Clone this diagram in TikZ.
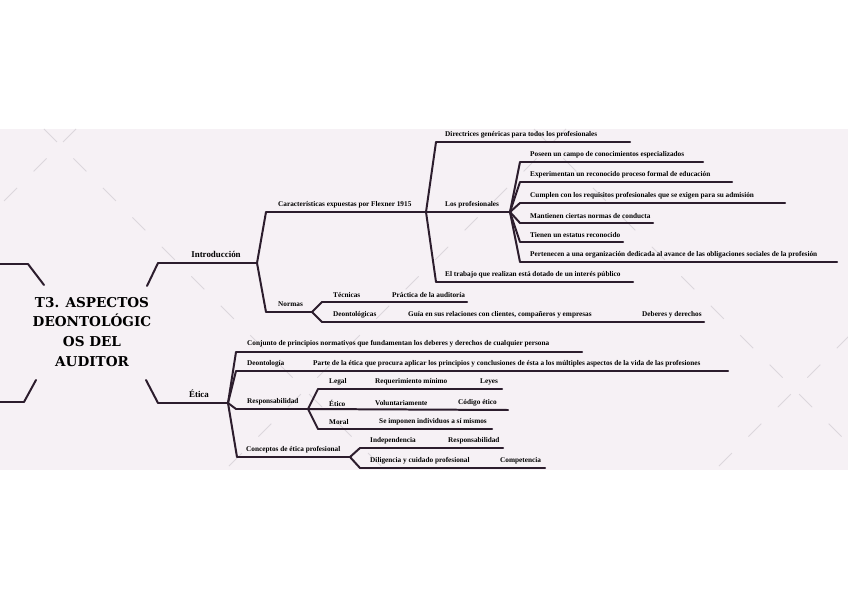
\documentclass[tikz,border=0pt]{standalone}
\usepackage{fontspec}
\setmainfont{Liberation Serif}
\newfontfamily\titlefont{DejaVu Serif}
\usepackage{xcolor}
\usetikzlibrary{positioning}
\definecolor{branchcol}{HTML}{2C1D2D}
\definecolor{bandcol}{HTML}{F6F1F5}
\definecolor{dashcol}{HTML}{DCD7DC}

\begin{document}
\begin{tikzpicture}[
  x=0.03cm, y=-0.03cm,
  branch/.style={draw=branchcol, line width=1.7pt, line join=round, line cap=round},
  leaf/.style={anchor=west, inner sep=0pt, font=\bfseries\fontsize{6.2}{7}\selectfont},
  topic/.style={anchor=center, inner sep=0pt, font=\bfseries\fontsize{7.6}{9}\selectfont},
  central/.style={align=center, inner sep=0pt, font=\titlefont\bfseries\fontsize{11.6}{17}\selectfont},
  deco/.style={draw=dashcol, line width=0.7pt, dash pattern=on 0.55cm off 0.7cm}
]
\useasboundingbox (0,0) rectangle (848,599);

% Background band
\fill[bandcol] (0,129) rectangle (848,470);
\begin{scope}
  \clip (0,129) rectangle (848,470);
  \draw[deco] (76,129) -- (-265,470);
  \draw[deco] (566,129) -- (225,470);
  \draw[deco] (1056,129) -- (715,470);
  \draw[deco] (44,129) -- (385,470);
  \draw[deco] (534,129) -- (875,470);
\end{scope}

% Central topic
\node[central] (root) at (92,332) {T3. ASPECTOS\\DEONTOLÓGIC\\OS DEL\\AUDITOR};

% Branches leaving to the left
\coordinate (ul-a) at (44,285);
\coordinate (ul-b) at (28,264);
\coordinate (ul-e) at (0,264);
\coordinate (ll-a) at (36,380);
\coordinate (ll-b) at (24,402);
\coordinate (ll-e) at (0,402);
\draw[branch] (ul-a) -- (ul-b) -- (ul-e);
\draw[branch] (ll-a) -- (ll-b) -- (ll-e);

% Introduccion
\coordinate (intro-a) at (147,286);
\coordinate (intro-s) at (158,263);
\coordinate (intro-e) at (257,263);
\node[topic] (intro) at (216,254) {Introducción};

\coordinate (caract-s) at (266,212);
\coordinate (caract-e) at (426,212);
\node[leaf] (caract) at (278,205) {Características expuestas por Flexner 1915};

\coordinate (direct-s) at (436,142);
\coordinate (direct-e) at (630,142);
\node[leaf] (direct) at (445,135) {Directrices genéricas para todos los profesionales};

\coordinate (profs-e) at (510,212);
\node[leaf] (profs) at (445,205) {Los profesionales};

\coordinate (trabajo-s) at (436,282);
\coordinate (trabajo-e) at (633,282);
\node[leaf] (trabajo) at (445,275) {El trabajo que realizan está dotado de un interés público};

% Los profesionales
\coordinate (poseen-s) at (520,162);
\coordinate (poseen-e) at (703,162);
\node[leaf] (poseen) at (530,155) {Poseen un campo de conocimientos especializados};
\coordinate (experim-s) at (520,182);
\coordinate (experim-e) at (732,182);
\node[leaf] (experim) at (530,175) {Experimentan un reconocido proceso formal de educación};
\coordinate (cumplen-s) at (520,203);
\coordinate (cumplen-e) at (785,203);
\node[leaf] (cumplen) at (530,196) {Cumplen con los requisitos profesionales que se exigen para su admisión};
\coordinate (mantien-s) at (520,223);
\coordinate (mantien-e) at (653,223);
\node[leaf] (mantien) at (530,216) {Mantienen ciertas normas de conducta};
\coordinate (tienen-s) at (520,242);
\coordinate (tienen-e) at (623,242);
\node[leaf] (tienen) at (530,235) {Tienen un estatus reconocido};
\coordinate (pertenec-s) at (520,262);
\coordinate (pertenec-e) at (837,262);
\node[leaf] (pertenec) at (530,255) {Pertenecen a una organización dedicada al avance de las obligaciones sociales de la profesión};

% Normas
\coordinate (normas-s) at (266,312);
\coordinate (normas-e) at (312,312);
\node[leaf] (normas) at (278,304) {Normas};

\coordinate (tecnicas-s) at (322,302);
\coordinate (tecnicas-e) at (467,302);
\node[leaf] (tecnicas) at (333,295) {Técnicas};
\node[leaf] (practica) at (392,295) {Práctica de la auditoría};

\coordinate (deontol-s) at (322,322);
\coordinate (deontol-e) at (704,322);
\node[leaf] (deontol) at (333,315) {Deontológicas};
\node[leaf] (guia) at (408,315) {Guía en sus relaciones con clientes, compañeros y empresas};
\node[leaf] (deberes) at (642,315) {Deberes y derechos};

% Etica
\coordinate (etica-a) at (146,380);
\coordinate (etica-s) at (158,403);
\coordinate (etica-e) at (228,403);
\node[topic] (etica) at (199,394) {Ética};

\coordinate (conjunto-s) at (236,352);
\coordinate (conjunto-e) at (582,352);
\node[leaf] (conjunto) at (247,344) {Conjunto de principios normativos que fundamentan los deberes y derechos de cualquier persona};

\coordinate (deonto-s) at (236,371);
\coordinate (deonto-e) at (728,371);
\node[leaf] (deonto) at (247,364) {Deontología};
\node[leaf] (parte) at (313,364) {Parte de la ética que procura aplicar los principios y conclusiones de ésta a los múltiples aspectos de la vida de las profesiones};

\coordinate (respons-s) at (236,409);
\coordinate (respons-e) at (308,409);
\node[leaf] (respons) at (247,402) {Responsabilidad};

\coordinate (concept-s) at (237,457);
\coordinate (concept-e) at (350,457);
\node[leaf] (concept) at (246,450) {Conceptos de ética profesional};

% Responsabilidad
\coordinate (legal-s) at (318,389);
\coordinate (legal-e) at (502,389);
\node[leaf] (legal) at (329,382) {Legal};
\node[leaf] (reqmin) at (375,382) {Requerimiento mínimo};
\node[leaf] (leyes) at (480,382) {Leyes};

\coordinate (etico-e) at (508,410);
\node[leaf] (etico) at (329,403) {Ético};
\node[leaf] (volunt) at (375,403) {Voluntariamente};
\node[leaf] (codigo) at (458,403) {Código ético};

\coordinate (moral-s) at (318,429);
\coordinate (moral-e) at (492,429);
\node[leaf] (moral) at (329,422) {Moral};
\node[leaf] (seimpon) at (379,422) {Se imponen individuos a sí mismos};

% Conceptos de etica profesional
\coordinate (indep-s) at (360,448);
\coordinate (indep-e) at (503,448);
\node[leaf] (indep) at (370,441) {Independencia};
\node[leaf] (resppro) at (448,441) {Responsabilidad};

\coordinate (dilig-s) at (360,468);
\coordinate (dilig-e) at (545,468);
\node[leaf] (dilig) at (370,461) {Diligencia y cuidado profesional};
\node[leaf] (compet) at (500,461) {Competencia};

% Edges
\draw[branch] (intro-a) -- (intro-s) -- (intro-e);
\draw[branch] (intro-e) -- (caract-s) -- (caract-e);
\draw[branch] (intro-e) -- (normas-s) -- (normas-e);
\draw[branch] (caract-e) -- (direct-s) -- (direct-e);
\draw[branch] (caract-e) -- (profs-e);
\draw[branch] (caract-e) -- (trabajo-s) -- (trabajo-e);
\draw[branch] (profs-e) -- (poseen-s) -- (poseen-e);
\draw[branch] (profs-e) -- (experim-s) -- (experim-e);
\draw[branch] (profs-e) -- (cumplen-s) -- (cumplen-e);
\draw[branch] (profs-e) -- (mantien-s) -- (mantien-e);
\draw[branch] (profs-e) -- (tienen-s) -- (tienen-e);
\draw[branch] (profs-e) -- (pertenec-s) -- (pertenec-e);
\draw[branch] (normas-e) -- (tecnicas-s) -- (tecnicas-e);
\draw[branch] (normas-e) -- (deontol-s) -- (deontol-e);
\draw[branch] (etica-a) -- (etica-s) -- (etica-e);
\draw[branch] (etica-e) -- (conjunto-s) -- (conjunto-e);
\draw[branch] (etica-e) -- (deonto-s) -- (deonto-e);
\draw[branch] (etica-e) -- (respons-s) -- (respons-e);
\draw[branch] (etica-e) -- (concept-s) -- (concept-e);
\draw[branch] (respons-e) -- (legal-s) -- (legal-e);
\draw[branch] (respons-e) -- (etico-e);
\draw[branch] (respons-e) -- (moral-s) -- (moral-e);
\draw[branch] (concept-e) -- (indep-s) -- (indep-e);
\draw[branch] (concept-e) -- (dilig-s) -- (dilig-e);
\end{tikzpicture}
\end{document}
